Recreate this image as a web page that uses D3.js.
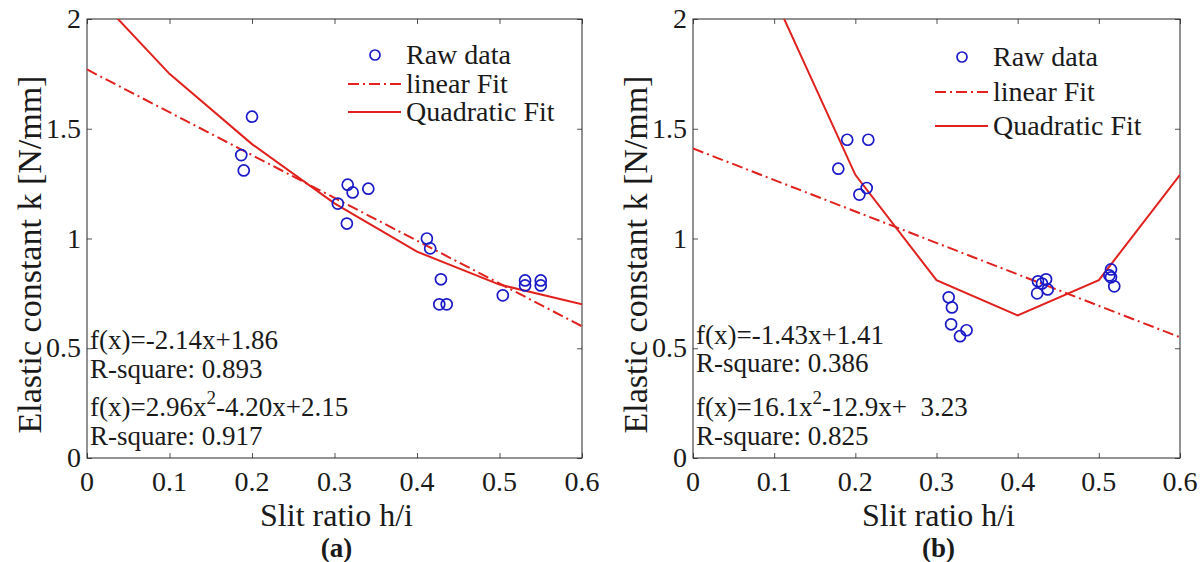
<!DOCTYPE html>
<html lang="en">
<head>
<meta charset="utf-8"/>
<script src="https://d3js.org/d3.v7.min.js"></script>
<style>
  body { margin: 0; background: #fff; }
  svg text { font-family: "Liberation Serif", "Times New Roman", serif; fill: #1a1a1a; }
</style>
</head>
<body>
<svg id="chart" width="1202" height="562"></svg>
<script>
// ---- data ----
const xTicks = [0, 0.1, 0.2, 0.3, 0.4, 0.5, 0.6];
const yTicks = [0, 0.5, 1, 1.5, 2];

// panel (a) raw points
const rawXA = [0.187, 0.190, 0.200, 0.304, 0.315, 0.316, 0.322, 0.341, 0.412, 0.416, 0.429, 0.427, 0.436, 0.504, 0.531, 0.531, 0.550, 0.550];
const rawYA = [1.380, 1.310, 1.555, 1.159, 1.068, 1.245, 1.210, 1.227, 1.000, 0.955, 0.814, 0.700, 0.700, 0.741, 0.809, 0.786, 0.809, 0.786];
// panel (b) raw points
const rawXB = [0.179, 0.190, 0.216, 0.214, 0.205, 0.315, 0.319, 0.318, 0.329, 0.337, 0.425, 0.435, 0.430, 0.437, 0.424, 0.515, 0.513, 0.515, 0.519];
const rawYB = [1.318, 1.450, 1.450, 1.230, 1.200, 0.732, 0.686, 0.609, 0.555, 0.582, 0.805, 0.814, 0.795, 0.768, 0.750, 0.859, 0.832, 0.823, 0.782];

// fitted curves, sampled at the grid the plot used
const fitX = [0, 0.1, 0.2, 0.3, 0.4, 0.5, 0.6];
const quadYA = [2.15, 1.75, 1.43, 1.16, 0.94, 0.79, 0.70];
const quadYB = [3.23, 2.10, 1.29, 0.81, 0.65, 0.81, 1.29];
const linX = [0, 0.6];
const linYA = [1.77, 0.60];
const linYB = [1.41, 0.55];

const legendLabels = ["Raw data", "linear Fit", "Quadratic Fit"];

const panels = [
  { tag: "(a)", left: 87, right: 582, rawX: rawXA, rawY: rawYA, quad: quadYA, lin: linYA,
    legX: 348, legY: [55, 84, 112],
    notes: [["f(x)=-2.14x+1.86"], ["R-square: 0.893"], ["f(x)=2.96x", "2", "-4.20x+2.15"], ["R-square: 0.917"]],
    noteY: [349, 378, 416, 445] },
  { tag: "(b)", left: 693, right: 1180, rawX: rawXB, rawY: rawYB, quad: quadYB, lin: linYB,
    legX: 935, legY: [57, 92, 126],
    notes: [["f(x)=-1.43x+1.41"], ["R-square: 0.386"], ["f(x)=16.1x", "2", "-12.9x+  3.23"], ["R-square: 0.825"]],
    noteY: [344, 372, 416, 445] }
];

const plotTop = 19, plotBottom = 458;
const red = "#e0211d", blue = "#1a1ac8", axisCol = "#262626";

const svg = d3.select("#chart");

panels.forEach(function(p, i) {
  const x = d3.scaleLinear().domain([0, 0.6]).range([p.left, p.right]);
  const y = d3.scaleLinear().domain([0, 2]).range([plotBottom, plotTop]);
  const g = svg.append("g");

  // clip for curves
  const clipId = "clip" + i;
  svg.append("clipPath").attr("id", clipId)
    .append("rect").attr("x", p.left).attr("y", plotTop)
    .attr("width", p.right - p.left).attr("height", plotBottom - plotTop);

  // ticks inside on all four sides
  const tl = 5;
  [[d3.axisBottom(x), plotBottom], [d3.axisTop(x), plotTop]].forEach(function(a) {
    g.append("g").attr("transform", "translate(0," + a[1] + ")")
      .call(a[0].tickValues(xTicks).tickSize(-tl).tickFormat(""))
      .call(s => s.select(".domain").remove())
      .selectAll("line").attr("stroke", "#555");
  });
  [[d3.axisLeft(y), p.left], [d3.axisRight(y), p.right]].forEach(function(a) {
    g.append("g").attr("transform", "translate(" + a[1] + ",0)")
      .call(a[0].tickValues(yTicks).tickSize(-tl).tickFormat(""))
      .call(s => s.select(".domain").remove())
      .selectAll("line").attr("stroke", "#555");
  });

  // box
  g.append("rect").attr("x", p.left).attr("y", plotTop)
    .attr("width", p.right - p.left).attr("height", plotBottom - plotTop)
    .attr("fill", "none").attr("stroke", axisCol).attr("stroke-width", 1);

  // tick labels
  g.selectAll(".xl").data(xTicks).enter().append("text")
    .attr("x", d => x(d)).attr("y", 491)
    .attr("text-anchor", "middle").attr("font-size", 28)
    .text(d => d);
  g.selectAll(".yl").data(yTicks).enter().append("text")
    .attr("x", p.left - 6).attr("y", d => y(d) + 9)
    .attr("text-anchor", "end").attr("font-size", 28)
    .text(d => d);

  // axis labels
  g.append("text").attr("x", (p.left + p.right) / 2 + 2).attr("y", 526)
    .attr("text-anchor", "middle").attr("font-size", 32).text("Slit ratio h/i");
  g.append("text")
    .attr("transform", "translate(" + (p.left - 46) + "," + ((plotTop + plotBottom) / 2 + 16) + ") rotate(-90)")
    .attr("text-anchor", "middle").attr("font-size", 34).text("Elastic constant k [N/mm]");
  g.append("text").attr("x", (p.left + p.right) / 2 + 2).attr("y", 557)
    .attr("text-anchor", "middle").attr("font-size", 27).attr("font-weight", "bold").text(p.tag);

  // fits
  const cl = g.append("g").attr("clip-path", "url(#" + clipId + ")");
  cl.append("path")
    .datum(linX.map((v, j) => [v, p.lin[j]]))
    .attr("d", d3.line().x(d => x(d[0])).y(d => y(d[1])))
    .attr("fill", "none").attr("stroke", red).attr("stroke-width", 2)
    .attr("stroke-dasharray", "11,4,2,4");
  cl.append("path")
    .datum(fitX.map((v, j) => [v, p.quad[j]]))
    .attr("d", d3.line().x(d => x(d[0])).y(d => y(d[1])))
    .attr("fill", "none").attr("stroke", red).attr("stroke-width", 2);

  // raw points
  g.selectAll(".pt").data(p.rawX).enter().append("circle")
    .attr("cx", d => x(d)).attr("cy", (d, j) => y(p.rawY[j]))
    .attr("r", 5.5).attr("fill", "none").attr("stroke", blue).attr("stroke-width", 1.7);

  // legend
  const lg = g.append("g");
  lg.append("circle").attr("cx", p.legX + 27).attr("cy", p.legY[0]).attr("r", 5)
    .attr("fill", "none").attr("stroke", blue).attr("stroke-width", 1.7);
  lg.append("line").attr("x1", p.legX).attr("x2", p.legX + 53)
    .attr("y1", p.legY[1]).attr("y2", p.legY[1])
    .attr("stroke", red).attr("stroke-width", 2).attr("stroke-dasharray", "11,4,2,4");
  lg.append("line").attr("x1", p.legX).attr("x2", p.legX + 53)
    .attr("y1", p.legY[2]).attr("y2", p.legY[2])
    .attr("stroke", red).attr("stroke-width", 2);
  lg.selectAll(".lt").data(legendLabels).enter().append("text")
    .attr("x", p.legX + 58).attr("y", (d, j) => p.legY[j] + 9)
    .attr("font-size", 28).text(d => d);

  // fit annotations
  p.notes.forEach(function(parts, j) {
    const t = g.append("text").attr("x", p.left + 3).attr("y", p.noteY[j]).attr("font-size", 27)
      .attr("xml:space", "preserve");
    if (parts.length === 1) {
      t.text(parts[0]);
    } else {
      t.append("tspan").text(parts[0]);
      t.append("tspan").attr("dy", -12).attr("font-size", 19).text(parts[1]);
      t.append("tspan").attr("dy", 12).text(parts[2]);
    }
  });
});
</script>
</body>
</html>
